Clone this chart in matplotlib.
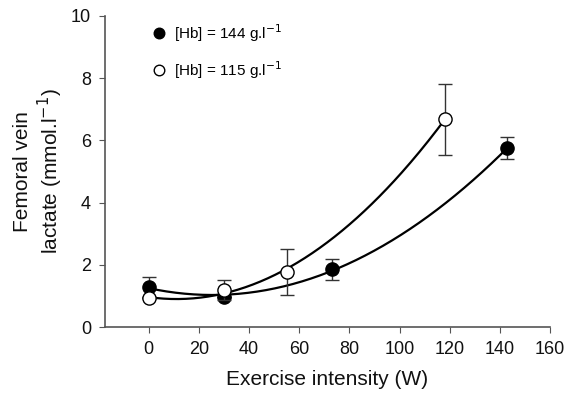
import matplotlib
matplotlib.use("Agg")
import matplotlib.pyplot as plt
import numpy as np

plt.rcParams["font.family"] = ["Liberation Sans", "DejaVu Sans"]

# [Hb] = 144 g/l (filled)
w_hi = [0, 30, 73, 143]
lac_hi = [1.28, 0.97, 1.85, 5.75]
err_hi = [0.32, 0.0, 0.35, 0.35]

# [Hb] = 115 g/l (open)
w_lo = [0, 30, 55, 118]
lac_lo = [0.92, 1.20, 1.78, 6.68]
err_lo = [0.0, 0.32, 0.74, 1.14]

fig = plt.figure(figsize=(5.76, 4.0), dpi=100)
ax = fig.add_axes([0.182, 0.1825, 0.773, 0.7775])

# quadratic fits through each group
for w, lac in [(w_hi, lac_hi), (w_lo, lac_lo)]:
    coef = np.polyfit(w, lac, 2)
    xs = np.linspace(min(w), max(w), 200)
    ax.plot(xs, np.polyval(coef, xs), color="black", lw=1.6, zorder=2)

ax.errorbar(w_hi, lac_hi, yerr=err_hi, fmt="o", ms=9.5, mfc="black", mec="black",
            ecolor="#333333", elinewidth=1.0, capsize=5, capthick=1.0, zorder=3,
            label="[Hb] = 144 g.l$^{-1}$")
ax.errorbar(w_lo, lac_lo, yerr=err_lo, fmt="o", ms=9.5, mfc="white", mec="black",
            mew=1.0, ecolor="#333333", elinewidth=1.0, capsize=5, capthick=1.0,
            zorder=4, label="[Hb] = 115 g.l$^{-1}$")

ax.set_xlim(-17.5, 160)
ax.set_ylim(0, 10)
ax.set_xticks(range(0, 161, 20))
ax.set_yticks(range(0, 11, 2))
for s in ["top", "right"]:
    ax.spines[s].set_visible(False)
for s in ["left", "bottom"]:
    ax.spines[s].set_color("#555555")
    ax.spines[s].set_linewidth(1.2)
ax.tick_params(direction="out", length=4, color="#555555", labelsize=13,
               labelcolor="#111111", pad=6)

ax.set_xlabel("Exercise intensity (W)", fontsize=15, labelpad=9, color="#111111")
ax.set_ylabel("Femoral vein\nlactate (mmol.l$^{-1}$)", fontsize=15, labelpad=4,
              color="#111111")

handles, labels = ax.get_legend_handles_labels()
handles = [h[0] for h in handles]
ax.legend(handles, labels, loc="upper left", bbox_to_anchor=(0.07, 1.025),
          frameon=False, fontsize=11, handletextpad=0.4, labelspacing=1.0,
          handlelength=1.2, markerscale=0.8)

fig.savefig("out.png", dpi=100, facecolor="white")
